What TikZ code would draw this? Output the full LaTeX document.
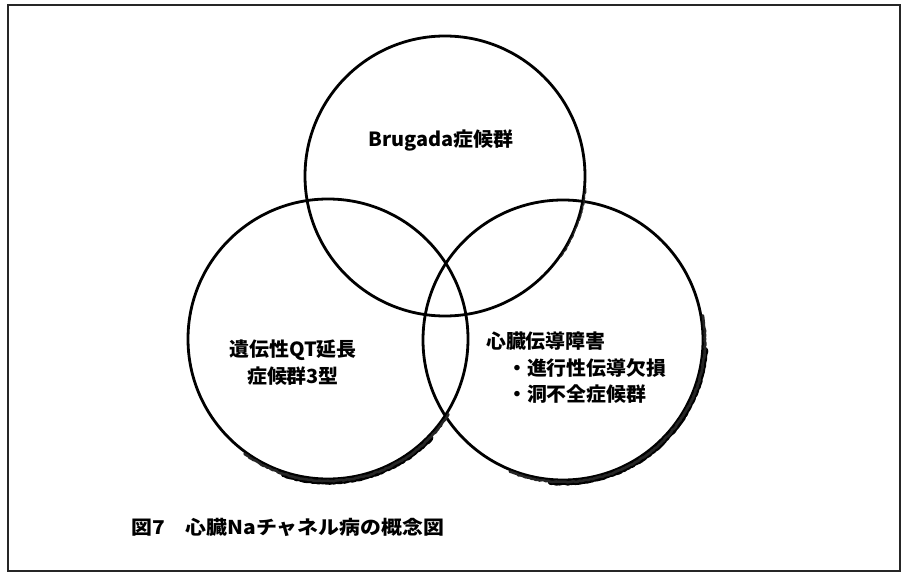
\documentclass[tikz,border=0pt]{standalone}
\usepackage{fontspec}
\usetikzlibrary{decorations.pathmorphing}
\newfontfamily\jp[FakeStretch=1.02]{Noto Sans CJK JP}
\newfontfamily\jpc[FakeStretch=1.1]{Noto Sans CJK JP}
\begin{document}
\begin{tikzpicture}[x=1pt,y=1pt,
  circ/.style={circle, draw=black, line width=2.8pt, minimum size=280pt, inner sep=0pt},
  lbl/.style={inner sep=0pt, font=\jp\bfseries\fontsize{19.5}{21}\selectfont},
  captext/.style={inner sep=0pt, font=\jpc\bfseries\fontsize{19}{21}\selectfont},
  shadowA/.style={draw=black, line width=5.5pt, line join=round, line cap=round, decorate, decoration={random steps, segment length=2pt, amplitude=0.5pt}},
  shadowB/.style={draw=black!85, line width=2.6pt, line join=round, line cap=round, decorate, decoration={random steps, segment length=2pt, amplitude=0.5pt}}
]
\useasboundingbox (0,0) rectangle (907,574);
\fill[white] (0,0) rectangle (907,574);
\draw[black!85, line width=1.5pt] (8,569) rectangle (900,3);

\node[circ] (T) at (445,398) {};
\node[circ] (L) at (328,235) {};
\node[circ] (R) at (563,234) {};

% shadows
\draw[shadowA] ([shift={(-44:142.6)}]L.center) arc[start angle=-44, end angle=-108, radius=142.6];
\draw[shadowB] ([shift={(-32:142)}]L.center) arc[start angle=-32, end angle=-126, radius=142];
\draw[shadowA] ([shift={(-4:142.6)}]R.center) arc[start angle=-4, end angle=-95, radius=142.6];
\draw[shadowB] ([shift={(10:142)}]R.center) arc[start angle=10, end angle=-112, radius=142];
\draw[shadowB, line width=1.2pt] ([shift={(-5:141.2)}]T.center) arc[start angle=-5, end angle=-35, radius=141.2];

\node[lbl] (tb) at (441,434) {Brugada症候群};
\node[lbl] (l1) at (293,224) {遺伝性QT延長};
\node[lbl] (l2) at (293,197.5) {症候群3型};
\node[lbl, anchor=west] (r1) at (486,233) {心臓伝導障害};
\node[lbl, anchor=west] (r2) at (507,206.5) {・進行性伝導欠損};
\node[lbl, anchor=west] (r3) at (507,180) {・洞不全症候群};
\node[captext, anchor=west] (cp) at (131,47) {図7　心臓Naチャネル病の概念図};
\end{tikzpicture}
\end{document}
